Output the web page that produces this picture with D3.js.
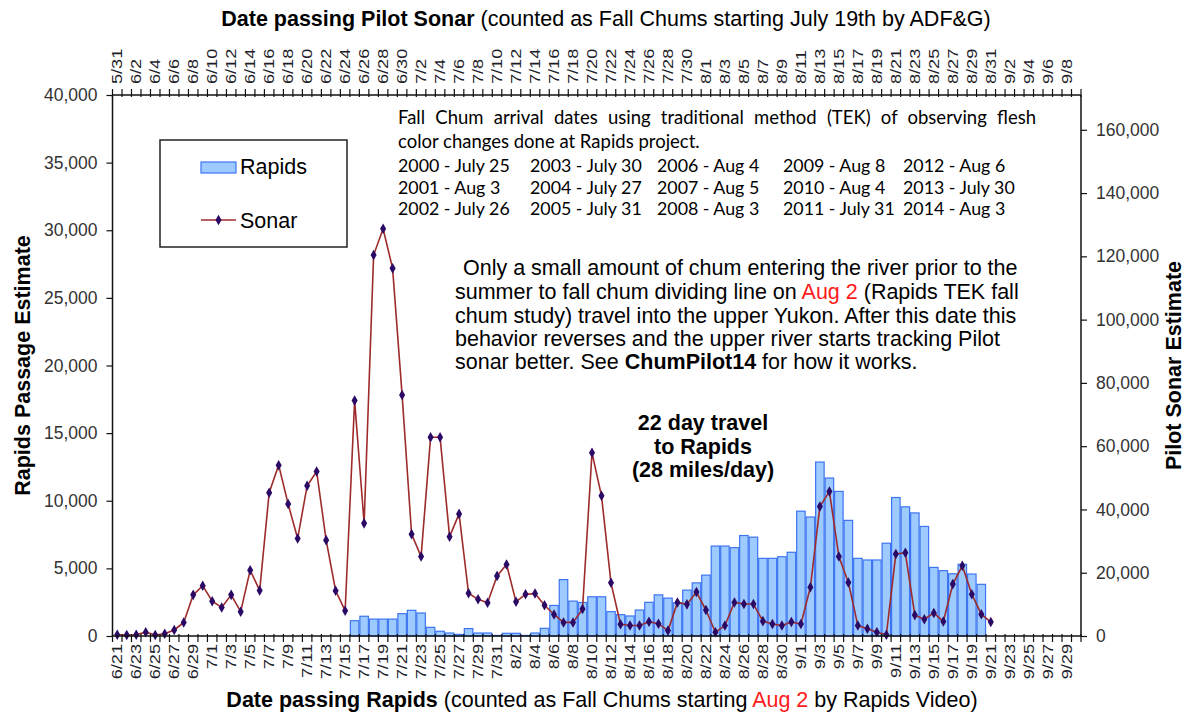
<!DOCTYPE html>
<html>
<head>
<meta charset="utf-8">
<script src="https://cdn.jsdelivr.net/npm/d3@7"></script>
<style>
body{margin:0;background:#fff;}
text{font-family:"Liberation Sans",Arial,sans-serif;}
.cal{font-family:Lato,"Open Sans",sans-serif;}
</style>
</head>
<body>
<div id="plot"></div>
<script>
//Categories (Rapids dates, bottom axis);
const rapidsDates=["6/21","6/22","6/23","6/24","6/25","6/26","6/27","6/28","6/29","6/30",
"7/1","7/2","7/3","7/4","7/5","7/6","7/7","7/8","7/9","7/10","7/11","7/12","7/13","7/14","7/15","7/16","7/17","7/18","7/19","7/20","7/21","7/22","7/23","7/24","7/25","7/26","7/27","7/28","7/29","7/30","7/31",
"8/1","8/2","8/3","8/4","8/5","8/6","8/7","8/8","8/9","8/10","8/11","8/12","8/13","8/14","8/15","8/16","8/17","8/18","8/19","8/20","8/21","8/22","8/23","8/24","8/25","8/26","8/27","8/28","8/29","8/30","8/31",
"9/1","9/2","9/3","9/4","9/5","9/6","9/7","9/8","9/9","9/10","9/11","9/12","9/13","9/14","9/15","9/16","9/17","9/18","9/19","9/20","9/21","9/22","9/23","9/24","9/25","9/26","9/27","9/28","9/29","9/30"];

//Pilot dates (top axis), 21 days earlier;
const pilotDates=["5/31","6/1","6/2","6/3","6/4","6/5","6/6","6/7","6/8","6/9","6/10","6/11","6/12","6/13","6/14","6/15","6/16","6/17","6/18","6/19","6/20","6/21","6/22","6/23","6/24","6/25","6/26","6/27","6/28","6/29","6/30",
"7/1","7/2","7/3","7/4","7/5","7/6","7/7","7/8","7/9","7/10","7/11","7/12","7/13","7/14","7/15","7/16","7/17","7/18","7/19","7/20","7/21","7/22","7/23","7/24","7/25","7/26","7/27","7/28","7/29","7/30","7/31",
"8/1","8/2","8/3","8/4","8/5","8/6","8/7","8/8","8/9","8/10","8/11","8/12","8/13","8/14","8/15","8/16","8/17","8/18","8/19","8/20","8/21","8/22","8/23","8/24","8/25","8/26","8/27","8/28","8/29","8/30","8/31",
"9/1","9/2","9/3","9/4","9/5","9/6","9/7","9/8","9/9"];

//Sonar series (right axis), starting 6/21;
const sonar=[400,300,400,1200,300,700,1900,4300,13000,15900,
11000,9000,13000,7700,20800,14400,45300,54000,41700,30800,
47500,52000,30300,14300,8000,74400,35600,120400,128700,116200,
76200,32200,25100,62800,62800,31400,38600,13500,11600,10500,
19000,22600,10800,13200,13400,9700,6800,4300,4300,8500,
57900,44300,16800,3700,3300,3300,4500,3900,1700,10600,
10000,13900,8200,1200,3300,10600,10100,10100,4700,3800,
3300,4400,3800,15400,40900,45700,25100,16900,3300,2300,
1200,400,25900,26300,6600,5300,7300,4600,16400,22200,
13200,6900,4400];

//Rapids series (left axis), starting 7/16;
const rapidsStart="7/16";
const rapids=[1130,1460,1250,1250,1250,1650,1900,1700,640,350,
220,120,550,220,220,40,200,200,40,220,
570,2260,4170,2580,2480,2900,2900,1800,1580,1480,
1920,2490,3040,2800,2450,3390,3930,4500,6650,6650,
6530,7430,7310,5740,5740,5860,6190,9230,8800,12860,
11680,10690,8550,5740,5620,5620,6860,10240,9550,9100,
8100,5070,4830,4600,5300,4580,3820];

//Axis ticks;
const leftTicks=[0,5000,10000,15000,20000,25000,30000,35000,40000];
const rightTicks=[0,20000,40000,60000,80000,100000,120000,140000,160000];

//TEK arrival table;
const tekHead=["Fall Chum arrival dates using traditional method (TEK) of observing flesh",
 "color changes done at Rapids project."];
const tekRows=[
 ["2000 - July 25","2003 - July 30","2006 - Aug 4","2009 - Aug 8","2012 - Aug 6"],
 ["2001 - Aug 3","2004 - July 27","2007 - Aug 5","2010 - Aug 4","2013 - July 30"],
 ["2002 - July 26","2005 - July 31","2008 - Aug 3","2011 - July 31","2014 - Aug 3"]];

//Set Height and Width Vars;
const w=1190, h=717;
const pLeft=112.5, pRight=1081, pTop=95, pBottom=636;

const svg=d3.select("#plot").append("svg")
  .attr("width",w).attr("height",h);

//Scales;
const x=d3.scaleBand().domain(rapidsDates).range([pLeft,pRight]).paddingInner(0).paddingOuter(0);
const xTop=d3.scaleBand().domain(pilotDates).range([pLeft,pRight]).paddingInner(0).paddingOuter(0);
const yL=d3.scaleLinear().domain([0,40000]).range([pBottom,pTop]);
const yR=d3.scaleLinear().domain([0,171000]).range([pBottom,pTop]);

const barFill="#9dcbff", barStroke="#3d74f2";
const lineCol="#9e2b2b", markCol="#2b0a66";

//Bars;
const r0=rapidsDates.indexOf(rapidsStart);
const barData=rapids.map((v,i)=>({d:rapidsDates[r0+i],v:v}));
svg.append("g").selectAll("rect").data(barData).enter().append("rect")
  .attr("x",d=>x(d.d)+0.5)
  .attr("width",x.bandwidth()-1)
  .attr("y",d=>yL(d.v))
  .attr("height",d=>pBottom-yL(d.v))
  .attr("fill",barFill)
  .attr("stroke",barStroke)
  .attr("stroke-width",1.2);

//Sonar line;
const sonarData=sonar.map((v,i)=>({d:rapidsDates[i],v:v}));
const line=d3.line().x(d=>x(d.d)+x.bandwidth()/2).y(d=>yR(d.v));
svg.append("path").datum(sonarData)
  .attr("d",line).attr("fill","none")
  .attr("stroke",lineCol).attr("stroke-width",1.6);
svg.append("g").selectAll("path").data(sonarData).enter().append("path")
  .attr("d",d3.symbol(d3.symbolDiamond).size(32))
  .attr("transform",d=>"translate("+(x(d.d)+x.bandwidth()/2)+","+yR(d.v)+")")
  .attr("fill",markCol);

//Frame lines;
const axisCol="#111";
svg.append("line").attr("x1",pLeft).attr("x2",pRight).attr("y1",pBottom).attr("y2",pBottom).attr("stroke",axisCol).attr("stroke-width",1.5);
svg.append("line").attr("x1",pLeft).attr("x2",pRight).attr("y1",pTop).attr("y2",pTop).attr("stroke",axisCol).attr("stroke-width",1.5);
svg.append("line").attr("x1",pLeft).attr("x2",pLeft).attr("y1",pTop).attr("y2",pBottom).attr("stroke",axisCol).attr("stroke-width",1.5);
svg.append("line").attr("x1",pRight).attr("x2",pRight).attr("y1",pTop).attr("y2",pBottom).attr("stroke",axisCol).attr("stroke-width",1.5);

//Day ticks (bottom and top);
const bTicks=rapidsDates.map(d=>x(d)).concat([pRight]);
svg.append("g").selectAll("line").data(bTicks).enter().append("line")
  .attr("x1",d=>d).attr("x2",d=>d).attr("y1",pBottom-2).attr("y2",pBottom+6)
  .attr("stroke",axisCol).attr("stroke-width",1.2);
const tTicks=pilotDates.map(d=>xTop(d)).concat([pRight]);
svg.append("g").selectAll("line").data(tTicks).enter().append("line")
  .attr("x1",d=>d).attr("x2",d=>d).attr("y1",pTop+2).attr("y2",pTop-6)
  .attr("stroke",axisCol).attr("stroke-width",1.2);

//Date labels (stretched along text direction like the original);
const lblCol="#1e1e2a";
svg.append("g").selectAll("text").data(rapidsDates.filter((d,i)=>i%2===0)).enter().append("text")
  .attr("transform",d=>"translate("+(x(d)+x.bandwidth()/2)+","+(pBottom+8)+") rotate(-90) scale(1.25,1)")
  .attr("dy","0.36em").attr("text-anchor","end")
  .style("font-size","14.5px").attr("fill",lblCol).text(d=>d);
svg.append("g").selectAll("text").data(pilotDates.filter((d,i)=>i%2===0)).enter().append("text")
  .attr("transform",d=>"translate("+(xTop(d)+xTop.bandwidth()/2)+","+(pTop-11)+") rotate(-90) scale(1.25,1)")
  .attr("dy","0.36em").attr("text-anchor","start")
  .style("font-size","14.5px").attr("fill",lblCol).text(d=>d);

//Left axis;
const gL=svg.append("g").attr("transform","translate("+pLeft+",0)")
  .call(d3.axisLeft(yL).tickValues(leftTicks).tickFormat(d3.format(",")).tickSize(6).tickSizeOuter(0));
gL.select(".domain").remove();
gL.selectAll("line").attr("stroke",axisCol).attr("stroke-width",1.2);
gL.selectAll("text").style("font-size","17.5px").attr("fill","#333").attr("x",-15)
  .style("font-family","'Liberation Sans',Arial,sans-serif");

//Right axis;
const gR=svg.append("g").attr("transform","translate("+pRight+",0)")
  .call(d3.axisRight(yR).tickValues(rightTicks).tickFormat(d3.format(",")).tickSize(6).tickSizeOuter(0));
gR.select(".domain").remove();
gR.selectAll("line").attr("stroke",axisCol).attr("stroke-width",1.2);
gR.selectAll("text").style("font-size","17.5px").attr("fill","#333").attr("x",15)
  .style("font-family","'Liberation Sans',Arial,sans-serif");

//Axis titles;
svg.append("text").attr("transform","translate(30,"+((pTop+pBottom)/2)+") rotate(-90)")
  .attr("text-anchor","middle").style("font-size","21.5px").style("font-weight","bold")
  .text("Rapids Passage Estimate");
svg.append("text").attr("transform","translate(1181,"+((pTop+pBottom)/2)+") rotate(-90)")
  .attr("text-anchor","middle").style("font-size","21.5px").style("font-weight","bold")
  .text("Pilot Sonar Estimate");

const tTitle=svg.append("text").attr("x",606).attr("y",26).attr("text-anchor","middle").style("font-size","21.5px");
tTitle.append("tspan").style("font-weight","bold").text("Date passing Pilot Sonar");
tTitle.append("tspan").text(" (counted as Fall Chums starting July  19th by ADF&G)");

const bTitle=svg.append("text").attr("x",602).attr("y",707).attr("text-anchor","middle").style("font-size","21.5px");
bTitle.append("tspan").style("font-weight","bold").text("Date passing Rapids");
bTitle.append("tspan").text(" (counted as Fall Chums starting ");
bTitle.append("tspan").attr("fill","#ff1a1a").text("Aug 2");
bTitle.append("tspan").text(" by Rapids Video)");

//Legend;
svg.append("rect").attr("x",160).attr("y",140).attr("width",187).attr("height",107)
  .attr("fill","#fff").attr("stroke","#222").attr("stroke-width",1.5);
svg.append("rect").attr("x",201).attr("y",162).attr("width",35).attr("height",11)
  .attr("fill",barFill).attr("stroke",barStroke).attr("stroke-width",1.2);
svg.append("text").attr("x",240).attr("y",173.5).style("font-size","21.5px").text("Rapids");
svg.append("line").attr("x1",201).attr("x2",236).attr("y1",220).attr("y2",220)
  .attr("stroke",lineCol).attr("stroke-width",1.6);
svg.append("path").attr("d",d3.symbol(d3.symbolDiamond).size(32)).attr("transform","translate(218.5,220)").attr("fill",markCol);
svg.append("text").attr("x",240).attr("y",227.5).style("font-size","21.5px").text("Sonar");

//TEK text box;
const head1=svg.append("text").attr("class","cal").attr("x",398).attr("y",124).style("font-size","18.5px")
  .text(tekHead[0]);
//Justify first line to the box width;
const hLen=head1.node().getComputedTextLength();
const nSpaces=tekHead[0].split(" ").length-1;
head1.style("word-spacing",Math.max(0,(638-hLen)/nSpaces)+"px");
svg.append("text").attr("class","cal").attr("x",398).attr("y",148).style("font-size","18.5px")
  .text(tekHead[1]);
const colX=[398,530,657,783,903];
const rowY=[172,194,215];
tekRows.forEach(function(row,ri){
  row.forEach(function(t,ci){
    svg.append("text").attr("class","cal").attr("x",colX[ci]).attr("y",rowY[ri])
      .style("font-size","17.8px").text(t);
  });
});

//Note paragraph;
const noteY=[275,299,323,346,369];
const noteSize="21.5px";
svg.append("text").attr("x",463).attr("y",noteY[0]).style("font-size",noteSize)
  .text("Only a small amount of chum entering the river prior to the");
const n2=svg.append("text").attr("x",455).attr("y",noteY[1]).style("font-size",noteSize);
n2.append("tspan").text("summer to fall chum dividing line on ");
n2.append("tspan").attr("fill","#ff1a1a").text("Aug 2");
n2.append("tspan").text(" (Rapids TEK fall");
svg.append("text").attr("x",455).attr("y",noteY[2]).style("font-size",noteSize)
  .text("chum study) travel into the upper Yukon. After this date this");
svg.append("text").attr("x",455).attr("y",noteY[3]).style("font-size",noteSize)
  .text("behavior reverses and the upper river starts tracking Pilot");
const n5=svg.append("text").attr("x",455).attr("y",noteY[4]).style("font-size",noteSize);
n5.append("tspan").text("sonar better. See ");
n5.append("tspan").style("font-weight","bold").text("ChumPilot14");
n5.append("tspan").text(" for how it works.");

//Travel note;
const travel=["22 day travel","to Rapids","(28 miles/day)"];
svg.append("g").selectAll("text").data(travel).enter().append("text")
  .attr("x",703).attr("y",(d,i)=>[430,454,477][i]).attr("text-anchor","middle")
  .style("font-size","21.5px").style("font-weight","bold").text(d=>d);
</script>
</body>
</html>
